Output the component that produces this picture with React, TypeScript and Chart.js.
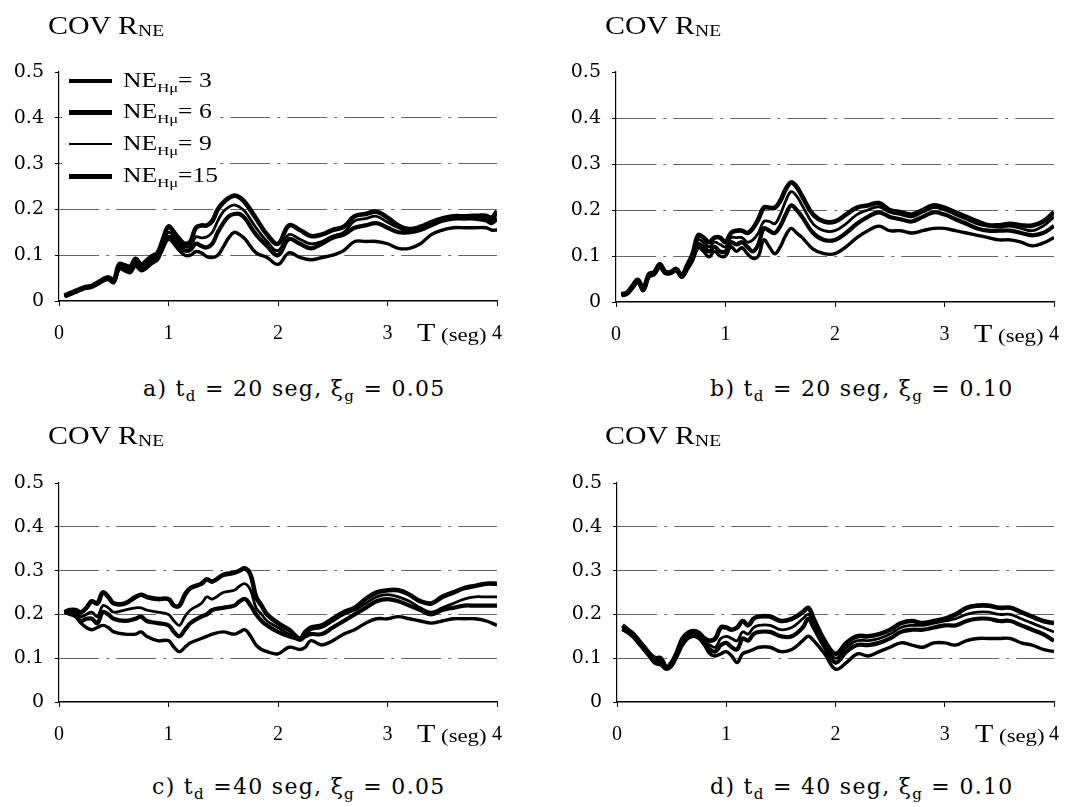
import React, { useEffect, useRef } from 'react';
import { Chart, registerables } from 'chart.js';

Chart.register(...registerables);

// ---------- data ----------
const Y_TICKS = [0, 0.1, 0.2, 0.3, 0.4, 0.5];
const X_TICKS = [0, 1, 2, 3, 4];
const SERIES_NAMES = ['15', '9', '6', '3'];
const LEGEND_VALUES = [' 3', ' 6', ' 9', '15'];

// panel a) td = 20 seg, xi = 0.05
const TA = [0.05, 0.1, 0.15, 0.2, 0.25, 0.3, 0.35, 0.4, 0.45, 0.5, 0.55, 0.6, 0.65, 0.7, 0.75, 0.8, 0.85, 0.9, 0.95, 1.0, 1.05, 1.1, 1.15, 1.2, 1.25, 1.3, 1.35, 1.4, 1.45, 1.5, 1.55, 1.6, 1.65, 1.7, 1.8, 1.9, 2.0, 2.1, 2.2, 2.3, 2.4, 2.5, 2.6, 2.7, 2.8, 2.9, 3.0, 3.1, 3.2, 3.3, 3.4, 3.5, 3.6, 3.7, 3.8, 3.9, 3.95, 4.0];
const A15 = [0.012, 0.017, 0.022, 0.027, 0.031, 0.033, 0.04, 0.047, 0.052, 0.046, 0.08, 0.078, 0.075, 0.092, 0.08, 0.088, 0.098, 0.105, 0.135, 0.163, 0.15, 0.135, 0.125, 0.13, 0.16, 0.165, 0.165, 0.175, 0.2, 0.215, 0.225, 0.23, 0.226, 0.215, 0.18, 0.145, 0.125, 0.165, 0.155, 0.142, 0.145, 0.155, 0.162, 0.185, 0.19, 0.195, 0.182, 0.165, 0.157, 0.162, 0.172, 0.18, 0.185, 0.185, 0.186, 0.186, 0.182, 0.196];
const A9 = [0.011, 0.016, 0.021, 0.026, 0.03, 0.032, 0.039, 0.046, 0.05, 0.044, 0.077, 0.074, 0.07, 0.087, 0.075, 0.083, 0.092, 0.1, 0.128, 0.15, 0.14, 0.127, 0.118, 0.12, 0.14, 0.138, 0.14, 0.15, 0.175, 0.195, 0.205, 0.21, 0.205, 0.195, 0.16, 0.13, 0.11, 0.145, 0.135, 0.125, 0.13, 0.142, 0.15, 0.175, 0.18, 0.185, 0.172, 0.16, 0.152, 0.16, 0.17, 0.18, 0.184, 0.184, 0.182, 0.18, 0.176, 0.19];
const A6 = [0.01, 0.015, 0.02, 0.025, 0.029, 0.031, 0.038, 0.045, 0.049, 0.042, 0.073, 0.07, 0.066, 0.082, 0.07, 0.077, 0.086, 0.095, 0.122, 0.14, 0.132, 0.12, 0.11, 0.112, 0.125, 0.12, 0.117, 0.125, 0.15, 0.17, 0.185, 0.19, 0.19, 0.18, 0.145, 0.12, 0.1, 0.135, 0.125, 0.115, 0.125, 0.138, 0.145, 0.16, 0.165, 0.17, 0.16, 0.15, 0.15, 0.155, 0.165, 0.175, 0.18, 0.18, 0.18, 0.176, 0.17, 0.18];
const A3 = [0.01, 0.014, 0.019, 0.024, 0.028, 0.03, 0.036, 0.043, 0.047, 0.04, 0.07, 0.066, 0.062, 0.076, 0.066, 0.072, 0.082, 0.09, 0.115, 0.135, 0.125, 0.11, 0.1, 0.1, 0.108, 0.105, 0.097, 0.095, 0.1, 0.118, 0.138, 0.15, 0.145, 0.135, 0.105, 0.095, 0.08, 0.105, 0.095, 0.09, 0.095, 0.1, 0.11, 0.13, 0.13, 0.13, 0.125, 0.115, 0.115, 0.125, 0.145, 0.155, 0.16, 0.16, 0.16, 0.16, 0.155, 0.155];

// panel b) td = 20 seg, xi = 0.10
const TB = [0.05, 0.1, 0.15, 0.2, 0.25, 0.3, 0.35, 0.4, 0.45, 0.5, 0.55, 0.6, 0.65, 0.7, 0.75, 0.8, 0.85, 0.9, 0.95, 1.0, 1.05, 1.1, 1.15, 1.2, 1.25, 1.3, 1.35, 1.4, 1.45, 1.5, 1.55, 1.6, 1.65, 1.7, 1.8, 1.9, 2.0, 2.1, 2.2, 2.3, 2.4, 2.5, 2.6, 2.7, 2.8, 2.9, 3.0, 3.1, 3.2, 3.3, 3.4, 3.5, 3.6, 3.7, 3.8, 3.9, 4.0];
const B15 = [0.017, 0.02, 0.035, 0.048, 0.03, 0.06, 0.065, 0.082, 0.066, 0.065, 0.072, 0.058, 0.08, 0.105, 0.145, 0.14, 0.13, 0.14, 0.14, 0.13, 0.15, 0.155, 0.155, 0.15, 0.16, 0.18, 0.205, 0.205, 0.205, 0.22, 0.245, 0.26, 0.25, 0.23, 0.19, 0.175, 0.175, 0.19, 0.205, 0.21, 0.215, 0.2, 0.195, 0.19, 0.2, 0.21, 0.205, 0.195, 0.185, 0.175, 0.167, 0.167, 0.17, 0.167, 0.166, 0.175, 0.195];
const B9 = [0.016, 0.019, 0.033, 0.045, 0.028, 0.058, 0.063, 0.079, 0.064, 0.064, 0.07, 0.056, 0.076, 0.1, 0.135, 0.13, 0.12, 0.13, 0.125, 0.12, 0.14, 0.14, 0.14, 0.13, 0.135, 0.15, 0.175, 0.175, 0.17, 0.19, 0.22, 0.24, 0.23, 0.21, 0.17, 0.155, 0.155, 0.17, 0.19, 0.2, 0.207, 0.195, 0.19, 0.185, 0.195, 0.205, 0.2, 0.19, 0.18, 0.17, 0.165, 0.163, 0.165, 0.16, 0.155, 0.165, 0.185];
const B6 = [0.015, 0.018, 0.031, 0.043, 0.026, 0.056, 0.061, 0.077, 0.063, 0.063, 0.069, 0.055, 0.073, 0.095, 0.125, 0.12, 0.11, 0.12, 0.11, 0.11, 0.13, 0.125, 0.13, 0.12, 0.11, 0.125, 0.16, 0.155, 0.15, 0.165, 0.19, 0.21, 0.2, 0.185, 0.15, 0.135, 0.135, 0.15, 0.17, 0.185, 0.195, 0.185, 0.18, 0.175, 0.185, 0.195, 0.19, 0.18, 0.17, 0.16, 0.155, 0.155, 0.155, 0.15, 0.145, 0.15, 0.165];
const B3 = [0.014, 0.017, 0.03, 0.042, 0.025, 0.054, 0.06, 0.075, 0.062, 0.062, 0.068, 0.054, 0.07, 0.09, 0.118, 0.11, 0.098, 0.11, 0.1, 0.1, 0.12, 0.11, 0.118, 0.105, 0.095, 0.1, 0.135, 0.12, 0.105, 0.12, 0.145, 0.16, 0.15, 0.14, 0.115, 0.105, 0.105, 0.12, 0.14, 0.155, 0.165, 0.155, 0.155, 0.15, 0.155, 0.16, 0.16, 0.155, 0.15, 0.145, 0.14, 0.135, 0.135, 0.13, 0.122, 0.128, 0.14];

// panel c) td = 40 seg, xi = 0.05
const TC = [0.05, 0.1, 0.15, 0.2, 0.25, 0.3, 0.35, 0.4, 0.45, 0.5, 0.6, 0.7, 0.75, 0.8, 0.9, 1.0, 1.05, 1.1, 1.15, 1.2, 1.3, 1.35, 1.4, 1.5, 1.6, 1.65, 1.7, 1.75, 1.8, 1.85, 1.9, 2.0, 2.1, 2.2, 2.25, 2.3, 2.4, 2.5, 2.6, 2.7, 2.8, 2.9, 3.0, 3.1, 3.2, 3.3, 3.4, 3.5, 3.6, 3.7, 3.8, 3.9, 4.0];
const C15 = [0.205, 0.21, 0.21, 0.205, 0.215, 0.23, 0.225, 0.25, 0.24, 0.225, 0.225, 0.24, 0.245, 0.24, 0.235, 0.235, 0.22, 0.22, 0.245, 0.26, 0.27, 0.28, 0.275, 0.29, 0.295, 0.3, 0.305, 0.29, 0.24, 0.22, 0.2, 0.18, 0.165, 0.145, 0.16, 0.17, 0.175, 0.19, 0.205, 0.215, 0.235, 0.25, 0.255, 0.255, 0.245, 0.23, 0.225, 0.24, 0.25, 0.26, 0.265, 0.27, 0.27];
const C9 = [0.205, 0.21, 0.205, 0.195, 0.2, 0.205, 0.195, 0.22, 0.215, 0.205, 0.21, 0.215, 0.215, 0.21, 0.205, 0.2, 0.185, 0.175, 0.195, 0.21, 0.225, 0.24, 0.235, 0.25, 0.255, 0.265, 0.27, 0.255, 0.215, 0.2, 0.185, 0.17, 0.155, 0.14, 0.15, 0.165, 0.17, 0.185, 0.2, 0.21, 0.225, 0.24, 0.245, 0.24, 0.23, 0.215, 0.205, 0.215, 0.225, 0.235, 0.24, 0.24, 0.24];
const C6 = [0.205, 0.205, 0.2, 0.185, 0.19, 0.19, 0.18, 0.205, 0.2, 0.19, 0.185, 0.19, 0.195, 0.185, 0.18, 0.175, 0.16, 0.15, 0.165, 0.18, 0.195, 0.2, 0.21, 0.215, 0.22, 0.23, 0.235, 0.22, 0.2, 0.185, 0.175, 0.16, 0.15, 0.145, 0.15, 0.155, 0.155, 0.17, 0.185, 0.2, 0.215, 0.23, 0.235, 0.23, 0.22, 0.21, 0.2, 0.21, 0.215, 0.22, 0.22, 0.22, 0.22];
const C3 = [0.205, 0.2, 0.195, 0.18, 0.17, 0.165, 0.17, 0.175, 0.17, 0.16, 0.155, 0.155, 0.16, 0.15, 0.14, 0.14, 0.125, 0.115, 0.125, 0.135, 0.145, 0.15, 0.155, 0.16, 0.155, 0.16, 0.165, 0.15, 0.13, 0.12, 0.115, 0.11, 0.125, 0.12, 0.125, 0.14, 0.13, 0.14, 0.155, 0.165, 0.18, 0.19, 0.19, 0.195, 0.19, 0.185, 0.18, 0.185, 0.19, 0.19, 0.19, 0.185, 0.175];

// panel d) td = 40 seg, xi = 0.10
const TD = [0.05, 0.1, 0.15, 0.2, 0.25, 0.3, 0.35, 0.4, 0.45, 0.5, 0.55, 0.6, 0.65, 0.7, 0.75, 0.8, 0.85, 0.9, 0.95, 1.0, 1.05, 1.1, 1.15, 1.2, 1.25, 1.3, 1.4, 1.5, 1.6, 1.7, 1.75, 1.8, 1.9, 2.0, 2.1, 2.2, 2.3, 2.4, 2.5, 2.6, 2.7, 2.8, 2.9, 3.0, 3.1, 3.2, 3.3, 3.4, 3.5, 3.6, 3.7, 3.8, 3.9, 4.0];
const D15 = [0.175, 0.165, 0.155, 0.14, 0.125, 0.11, 0.1, 0.1, 0.08, 0.09, 0.115, 0.145, 0.158, 0.162, 0.158, 0.145, 0.14, 0.145, 0.17, 0.17, 0.165, 0.17, 0.185, 0.175, 0.19, 0.195, 0.195, 0.185, 0.19, 0.205, 0.215, 0.19, 0.14, 0.11, 0.135, 0.15, 0.15, 0.155, 0.165, 0.18, 0.185, 0.18, 0.185, 0.19, 0.2, 0.215, 0.22, 0.22, 0.215, 0.215, 0.205, 0.195, 0.185, 0.18];
const D9 = [0.17, 0.163, 0.153, 0.138, 0.122, 0.108, 0.095, 0.095, 0.08, 0.088, 0.112, 0.14, 0.152, 0.157, 0.152, 0.138, 0.13, 0.125, 0.145, 0.15, 0.145, 0.14, 0.16, 0.155, 0.17, 0.175, 0.175, 0.165, 0.17, 0.19, 0.2, 0.18, 0.135, 0.1, 0.125, 0.14, 0.14, 0.145, 0.155, 0.17, 0.175, 0.175, 0.18, 0.185, 0.19, 0.2, 0.205, 0.205, 0.2, 0.2, 0.19, 0.18, 0.17, 0.16];
const D6 = [0.168, 0.16, 0.15, 0.135, 0.12, 0.105, 0.09, 0.09, 0.078, 0.085, 0.108, 0.135, 0.148, 0.153, 0.148, 0.133, 0.12, 0.115, 0.13, 0.135, 0.125, 0.12, 0.145, 0.14, 0.155, 0.16, 0.16, 0.15, 0.15, 0.17, 0.19, 0.17, 0.125, 0.09, 0.115, 0.13, 0.13, 0.135, 0.145, 0.16, 0.165, 0.165, 0.17, 0.175, 0.175, 0.185, 0.19, 0.19, 0.185, 0.185, 0.175, 0.165, 0.155, 0.14];
const D3 = [0.165, 0.158, 0.148, 0.133, 0.118, 0.103, 0.088, 0.085, 0.075, 0.082, 0.105, 0.13, 0.145, 0.15, 0.145, 0.13, 0.11, 0.105, 0.11, 0.115, 0.105, 0.09, 0.11, 0.115, 0.12, 0.125, 0.125, 0.115, 0.12, 0.14, 0.15, 0.14, 0.11, 0.075, 0.09, 0.11, 0.105, 0.115, 0.125, 0.135, 0.13, 0.125, 0.135, 0.135, 0.13, 0.14, 0.145, 0.145, 0.145, 0.145, 0.135, 0.13, 0.12, 0.115];

// ---------- styles ----------
const LINE_WIDTHS = [4.6, 2.8, 4.2, 3.4]; // NE=15, 9, 6, 3
const LEGEND_WIDTHS = [3.2, 4.5, 2.6, 5];
const SERIF = '"Liberation Serif", "Times New Roman", serif';
const WIDE_SERIF = '"DejaVu Serif", serif';

type PanelProps = { L: number; R: number; Tp: number; B: number; T: number[]; series: number[][] };

function Panel({ L, R, Tp, B, T, series }: PanelProps) {
  const ref = useRef<HTMLCanvasElement>(null);
  const padTop = 32, padRight = 30, padBottom = 15, yW = 59, xH = 45;
  const left = L - yW;
  const top = Tp - padTop;
  const width = R + padRight - left;
  const height = B + xH + padBottom - top;

  useEffect(() => {
    const chart = new Chart(ref.current as HTMLCanvasElement, {
      type: 'line',
      data: {
        datasets: series.map((s, k) => ({
          label: 'NE=' + SERIES_NAMES[k],
          data: T.map((t, i) => ({ x: t, y: s[i] })),
          borderColor: '#000',
          borderWidth: LINE_WIDTHS[k],
          pointRadius: 0,
          tension: 0.4,
          fill: false,
        })),
      },
      options: {
        animation: false,
        responsive: false,
        maintainAspectRatio: false,
        events: [],
        plugins: { legend: { display: false }, tooltip: { enabled: false } },
        layout: { autoPadding: false, padding: { left: 0, right: padRight, top: padTop, bottom: padBottom } },
        scales: {
          x: {
            type: 'linear',
            min: 0,
            max: 4,
            afterFit: (s: any) => { s.height = xH; },
            afterBuildTicks: (s: any) => { s.ticks = X_TICKS.map((v) => ({ value: v })); },
            ticks: {
              font: { family: SERIF, size: 20 },
              color: '#000',
              padding: 16,
              maxRotation: 0,
              autoSkip: false,
              callback: (v: any) => String(v),
            },
            grid: { drawOnChartArea: false, tickLength: 5, tickColor: '#000', tickWidth: 1 },
            border: { display: true, color: '#000', width: 1.5 },
          },
          y: {
            type: 'linear',
            min: 0,
            max: 0.5,
            afterFit: (s: any) => { s.width = yW; },
            afterBuildTicks: (s: any) => { s.ticks = Y_TICKS.map((v) => ({ value: v })); },
            ticks: {
              font: { family: WIDE_SERIF, size: 19 },
              color: '#000',
              padding: 11,
              autoSkip: false,
              callback: (v: any) => (Math.abs(Number(v)) < 1e-9 ? '0' : Number(v).toFixed(1)),
            },
            grid: {
              color: (ctx: any) => {
                const v = ctx.tick ? ctx.tick.value : 0;
                return v > 0.05 && v < 0.45 ? '#666' : 'rgba(0,0,0,0)';
              },
              lineWidth: 1,
              tickLength: 4,
              tickColor: '#000',
              tickWidth: 1,
              tickBorderDash: [],
            },
            border: { display: true, color: '#000', width: 1.2, dash: [40, 7, 3, 7] },
          },
        },
      },
    } as any);
    return () => chart.destroy();
  }, []);

  return (
    <canvas
      ref={ref}
      width={width}
      height={height}
      style={{ position: 'absolute', left, top, width, height }}
    />
  );
}

const stretch: React.CSSProperties = {
  display: 'inline-block',
  transform: 'scaleX(1.2)',
  transformOrigin: 'left center',
  whiteSpace: 'nowrap',
};

function Title({ left, top }: { left: number; top: number }) {
  return (
    <div style={{ position: 'absolute', left, top, fontFamily: SERIF, color: '#000', lineHeight: '28px' }}>
      <span style={{ ...stretch, transform: 'scaleX(1.15)' }}>
        <span style={{ fontSize: 26 }}>COV R</span>
        <span style={{ fontSize: 17, position: 'relative', top: 2 }}>NE</span>
      </span>
    </div>
  );
}

function TLabel({ left, cy }: { left: number; cy: number }) {
  return (
    <div style={{ position: 'absolute', left, top: cy - 14, height: 28, lineHeight: '28px', fontFamily: SERIF, color: '#000' }}>
      <span style={stretch}>
        <span style={{ fontSize: 25 }}>T</span>
        <span style={{ fontSize: 19 }}> (seg)</span>
      </span>
    </div>
  );
}

function Caption({ left, cy, letter, td, xi, eqTd }: { left: number; cy: number; letter: string; td: string; xi: string; eqTd: string }) {
  const sub: React.CSSProperties = { fontSize: 15, position: 'relative', top: 5 };
  return (
    <div style={{ position: 'absolute', left, top: cy - 15, height: 30, lineHeight: '30px', fontFamily: WIDE_SERIF, fontSize: 22, color: '#000', whiteSpace: 'nowrap', letterSpacing: 1.3 }}>
      {letter}) t<span style={sub}>d</span>{eqTd}{td} seg, ξ<span style={sub}>g</span> = {xi}
    </div>
  );
}

function Legend() {
  const rows = [81, 112.7, 144, 176];
  return (
    <>
      <div style={{ position: 'absolute', left: 62, top: 68, width: 156, height: 126, background: '#fff' }} />
      {rows.map((y, i) => (
        <div key={i} style={{ position: 'absolute', left: 69, top: y - 14, height: 28, display: 'flex', alignItems: 'center' }}>
          <div style={{ width: 43, height: LEGEND_WIDTHS[i], background: '#000' }} />
          <div style={{ marginLeft: 11, fontFamily: SERIF, color: '#000', lineHeight: '28px' }}>
            <span style={{ ...stretch, transform: 'scaleX(1.28)' }}>
              <span style={{ fontSize: 20 }}>NE</span>
              <span style={{ fontSize: 13, position: 'relative', top: 5 }}>Hμ</span>
              <span style={{ fontSize: 20 }}>={LEGEND_VALUES[i]}</span>
            </span>
          </div>
        </div>
      ))}
    </>
  );
}

export default function App() {
  return (
    <div style={{ position: 'absolute', left: 0, top: 0, width: 1081, height: 807, background: '#fff', overflow: 'hidden' }}>
      <Panel L={59} R={497} Tp={72} B={301} T={TA} series={[A15, A9, A6, A3]} />
      <Panel L={616} R={1054} Tp={72} B={302} T={TB} series={[B15, B9, B6, B3]} />
      <Panel L={59} R={497} Tp={483} B={702} T={TC} series={[C15, C9, C6, C3]} />
      <Panel L={617} R={1054} Tp={483} B={702} T={TD} series={[D15, D9, D6, D3]} />

      <Legend />

      <Title left={48} top={12} />
      <Title left={605} top={12} />
      <Title left={48} top={422} />
      <Title left={605} top={422} />

      <TLabel left={417} cy={333} />
      <TLabel left={974} cy={334} />
      <TLabel left={417} cy={734} />
      <TLabel left={975} cy={734} />

      <Caption left={143} cy={389} letter="a" eqTd=" = " td="20" xi="0.05" />
      <Caption left={710} cy={389} letter="b" eqTd=" = " td="20" xi="0.10" />
      <Caption left={152} cy={787} letter="c" eqTd=" =" td="40" xi="0.05" />
      <Caption left={710} cy={787} letter="d" eqTd=" = " td="40" xi="0.10" />
    </div>
  );
}
